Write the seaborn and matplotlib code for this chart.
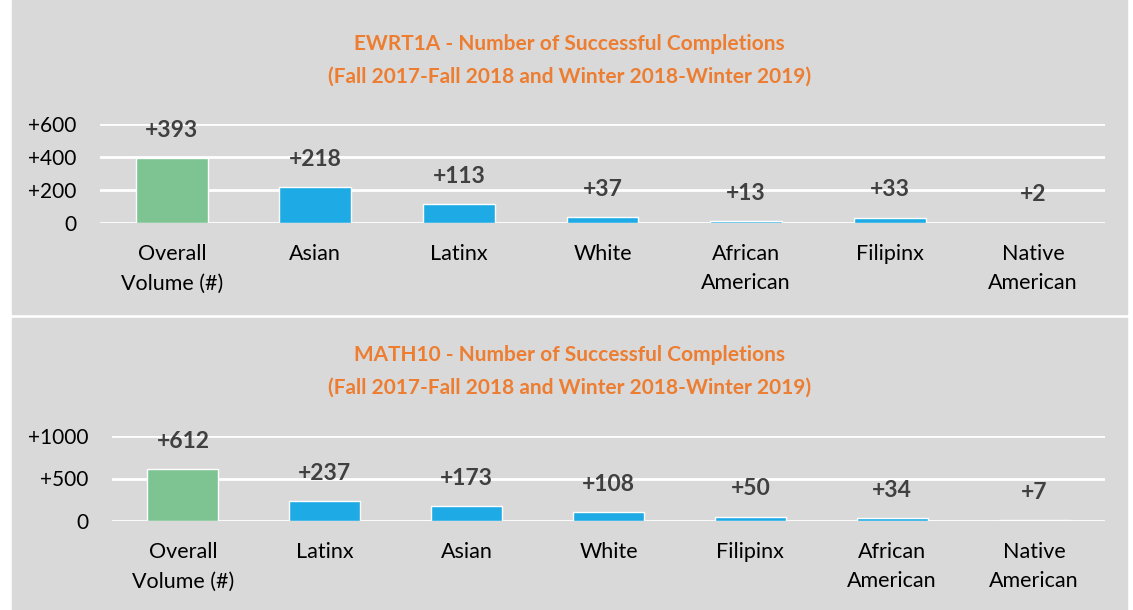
# -*- coding: utf-8 -*-

## Libraries ##

import pandas as pd
import matplotlib
matplotlib.use("Agg")
import matplotlib.pyplot as plt
import matplotlib.patheffects as pe
from matplotlib.patches import Rectangle
from matplotlib.ticker import FuncFormatter
import seaborn as sns

## Data ##

title_1 = "EWRT1A - Number of Successful Completions"
title_2 = "MATH10 - Number of Successful Completions"
subtitle = "(Fall 2017-Fall 2018 and Winter 2018-Winter 2019)"

groups_1 = ["Overall\nVolume (#)", "Asian", "Latinx", "White",
            "African\nAmerican", "Filipinx", "Native\nAmerican"]
values_1 = [393, 218, 113, 37, 13, 33, 2]

groups_2 = ["Overall\nVolume (#)", "Latinx", "Asian", "White",
            "Filipinx", "African\nAmerican", "Native\nAmerican"]
values_2 = [612, 237, 173, 108, 50, 34, 7]

yticks_1 = [0, 200, 400, 600]
yticks_2 = [0, 500, 1000]

## Style ##

sns.set_theme(style="white")
plt.rcParams['font.family'] = ['Lato', 'DejaVu Sans']

bg = "#d9d9d9"
green = "#7dc492"
blue = "#1eaae4"
orange = "#ed7d31"
label_col = "#404040"

fig = plt.figure(figsize=(11.33, 6.10), dpi=100)
fig.patch.set_facecolor("white")

# gray panels #
fig.add_artist(Rectangle((12/1133, 296/610), 1115/1133, 314/610,
                         transform=fig.transFigure, color=bg, zorder=0))
fig.add_artist(Rectangle((12/1133, 0), 1115/1133, 292/610,
                         transform=fig.transFigure, color=bg, zorder=0))


def plus_fmt(v, pos):
    return "0" if v == 0 else "+{:d}".format(int(v))


def draw_panel(rect, groups, values, yticks, title, title_y):
    ax = fig.add_axes(rect)
    ax.set_facecolor("none")
    df = pd.DataFrame({"Group": groups, "Value": values})
    colors = [green] + [blue] * (len(groups) - 1)
    sns.barplot(data=df, x="Group", y="Value", hue="Group", palette=colors,
                width=0.5, legend=False, ax=ax, saturation=1)
    for p in ax.patches:
        p.set_path_effects([pe.SimplePatchShadow(offset=(0, -2), shadow_rgbFace="#8a8a8a", alpha=0.4),
                            pe.Normal()])
    for i, v in enumerate(values):
        ax.annotate("+{}".format(v), xy=(i, v), xytext=(0, 20), textcoords="offset points",
                    ha="center", va="center", fontsize=16.5, fontweight="bold",
                    color=label_col, annotation_clip=False)
    ax.set_ylim(yticks[0], yticks[-1])
    ax.set_xlim(-0.5, len(groups) - 0.5)
    ax.set_yticks(yticks)
    ax.yaxis.set_major_formatter(FuncFormatter(plus_fmt))
    ax.yaxis.grid(True, color="white", linewidth=2)
    ax.set_axisbelow(True)
    sns.despine(ax=ax, left=True, bottom=True)
    ax.tick_params(axis="y", length=0, pad=17, labelsize=15, labelcolor="black")
    ax.tick_params(axis="x", length=0, pad=15, labelsize=15.5, labelcolor="black")
    for t in ax.get_xticklabels():
        t.set_linespacing(1.6)
    ax.set_xlabel("")
    ax.set_ylabel("")
    fig.text(569.5/1133, 1 - title_y/610, title + "\n" + subtitle, ha="center", va="center",
             fontsize=15, fontweight="bold", color=orange, linespacing=1.8)
    return ax


draw_panel([100/1133, 387/610, 1005/1133, 99/610], groups_1, values_1, yticks_1, title_1, 60.5)
draw_panel([112/1133, 89/610, 993/1133, 85/610], groups_2, values_2, yticks_2, title_2, 371.5)

plt.savefig("out.png", dpi=100, facecolor=fig.get_facecolor())
